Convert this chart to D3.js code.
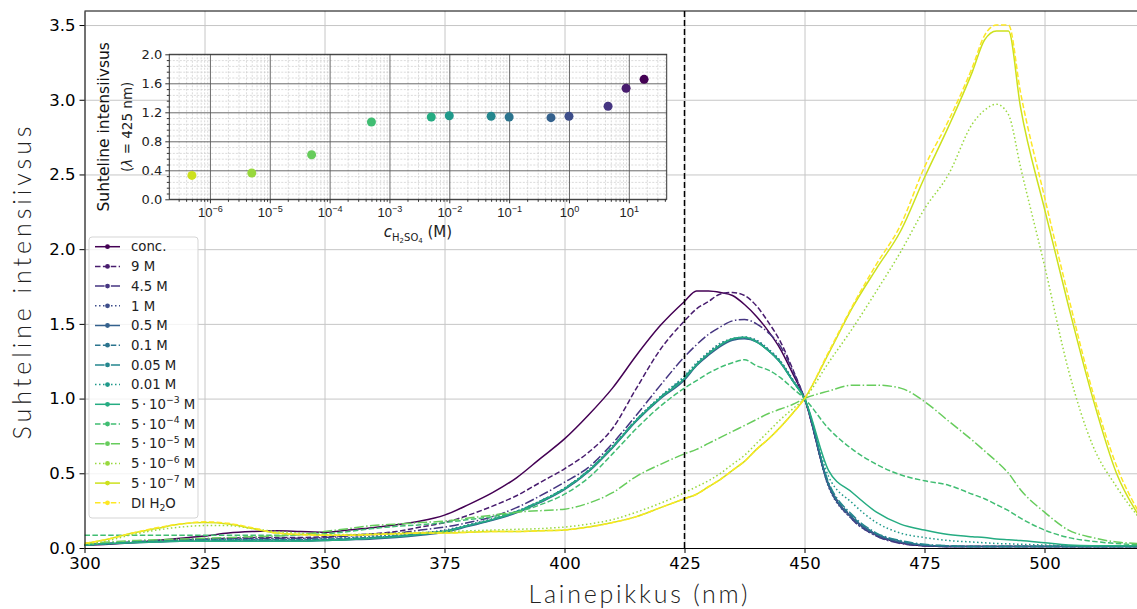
<!DOCTYPE html>
<html>
<head>
<meta charset="utf-8">
<script src="https://cdn.jsdelivr.net/npm/d3@7"></script>
<style>
  body { margin: 0; background: #fff; }
  svg { display: block; font-family: "DejaVu Sans", sans-serif; }
</style>
</head>
<body>
<svg id="chart" width="1137" height="609"></svg>
<script>
// wavelength grid (nm) shared by all spectra
const wavelengths = [300, 305, 310, 315, 320, 325, 330, 335, 340, 345,
    350, 355, 360, 365, 370, 375, 380, 385, 390, 395,
    400, 405, 410, 415, 420, 425, 427.5, 430, 432.5, 435,
    437.5, 440, 442.5, 445, 447.5, 450, 455, 460, 465, 470,
    475, 480, 485, 487.5, 490, 492.5, 495, 500, 505, 510, 515, 520];

const seriesLabels = ["conc.", "9 M", "4.5 M", "1 M", "0.5 M", "0.1 M", "0.05 M", "0.01 M",
    "5\u2009·\u200910^{−3} M", "5\u2009·\u200910^{−4} M", "5\u2009·\u200910^{−5} M",
    "5\u2009·\u200910^{−6} M", "5\u2009·\u200910^{−7} M", "DI H_{2}O"];

// relative intensity, one array per H2SO4 concentration
const concAcid = [0.02, 0.025, 0.035, 0.05, 0.065, 0.08, 0.10, 0.11, 0.115, 0.11,
    0.105, 0.12, 0.135, 0.155, 0.18, 0.22, 0.29, 0.37, 0.47, 0.60,
    0.73, 0.89, 1.07, 1.29, 1.49, 1.65, 1.72, 1.72, 1.71, 1.69,
    1.63, 1.55, 1.45, 1.33, 1.17, 1.0, 0.42, 0.20, 0.09, 0.035,
    0.015, 0.01, 0.01, 0.01, 0.01, 0.01, 0.01, 0.01, 0.01, 0.01, 0.01, 0.01];
const acid9M = [0.02, 0.03, 0.04, 0.05, 0.055, 0.06, 0.065, 0.07, 0.07, 0.07,
    0.075, 0.085, 0.095, 0.11, 0.14, 0.17, 0.22, 0.28, 0.35, 0.44,
    0.53, 0.64, 0.80, 1.07, 1.33, 1.52, 1.60, 1.65, 1.70, 1.71,
    1.69, 1.62, 1.51, 1.38, 1.20, 1.0, 0.43, 0.20, 0.085, 0.035,
    0.015, 0.01, 0.01, 0.01, 0.01, 0.01, 0.01, 0.01, 0.01, 0.01, 0.01, 0.01];
const acid45M = [0.02, 0.03, 0.04, 0.05, 0.055, 0.06, 0.065, 0.065, 0.065, 0.065,
    0.07, 0.08, 0.09, 0.10, 0.12, 0.14, 0.17, 0.21, 0.27, 0.35,
    0.44, 0.54, 0.70, 0.89, 1.09, 1.28, 1.36, 1.43, 1.48, 1.52,
    1.53, 1.50, 1.44, 1.35, 1.19, 1.0, 0.42, 0.19, 0.08, 0.03,
    0.015, 0.01, 0.01, 0.01, 0.01, 0.01, 0.01, 0.01, 0.01, 0.01, 0.01, 0.01];
const acid1M = [0.02, 0.03, 0.04, 0.05, 0.055, 0.06, 0.06, 0.06, 0.06, 0.06,
    0.065, 0.07, 0.08, 0.09, 0.10, 0.12, 0.155, 0.195, 0.245, 0.315,
    0.40, 0.52, 0.68, 0.86, 1.01, 1.145, 1.23, 1.31, 1.37, 1.40,
    1.41, 1.39, 1.33, 1.25, 1.13, 1.0, 0.41, 0.19, 0.08, 0.035,
    0.015, 0.01, 0.01, 0.01, 0.01, 0.01, 0.01, 0.01, 0.01, 0.01, 0.01, 0.01];
const acid05M = [0.02, 0.03, 0.035, 0.04, 0.045, 0.045, 0.045, 0.045, 0.045, 0.045,
    0.05, 0.055, 0.06, 0.07, 0.085, 0.105, 0.145, 0.185, 0.235, 0.305,
    0.39, 0.51, 0.67, 0.85, 1.00, 1.125, 1.22, 1.29, 1.35, 1.39,
    1.40, 1.38, 1.32, 1.24, 1.12, 1.0, 0.42, 0.20, 0.09, 0.04,
    0.02, 0.01, 0.01, 0.01, 0.01, 0.01, 0.01, 0.01, 0.01, 0.01, 0.01, 0.01];
const acid01M = [0.02, 0.03, 0.04, 0.045, 0.05, 0.055, 0.055, 0.055, 0.055, 0.055,
    0.06, 0.065, 0.07, 0.08, 0.095, 0.11, 0.15, 0.19, 0.24, 0.31,
    0.395, 0.515, 0.675, 0.855, 1.005, 1.135, 1.225, 1.30, 1.36, 1.395,
    1.405, 1.385, 1.325, 1.245, 1.125, 1.0, 0.43, 0.21, 0.095, 0.045,
    0.02, 0.015, 0.01, 0.01, 0.01, 0.01, 0.01, 0.01, 0.01, 0.01, 0.01, 0.01];
const acid005M = [0.02, 0.03, 0.04, 0.045, 0.05, 0.05, 0.05, 0.05, 0.05, 0.05,
    0.055, 0.06, 0.07, 0.08, 0.095, 0.115, 0.15, 0.19, 0.245, 0.315,
    0.40, 0.52, 0.68, 0.86, 1.01, 1.145, 1.23, 1.30, 1.36, 1.40,
    1.41, 1.38, 1.32, 1.24, 1.12, 1.0, 0.44, 0.22, 0.10, 0.05,
    0.025, 0.015, 0.01, 0.01, 0.01, 0.01, 0.01, 0.01, 0.01, 0.01, 0.01, 0.01];
const acid001M = [0.02, 0.03, 0.04, 0.045, 0.05, 0.055, 0.055, 0.055, 0.055, 0.055,
    0.06, 0.065, 0.075, 0.085, 0.10, 0.115, 0.155, 0.195, 0.245, 0.315,
    0.40, 0.52, 0.68, 0.86, 1.015, 1.153, 1.24, 1.31, 1.37, 1.40,
    1.41, 1.39, 1.33, 1.25, 1.13, 1.0, 0.48, 0.30, 0.17, 0.10,
    0.07, 0.05, 0.04, 0.035, 0.03, 0.028, 0.025, 0.02, 0.015, 0.01, 0.01, 0.01];
const acid5e3 = [0.02, 0.03, 0.035, 0.04, 0.045, 0.045, 0.045, 0.045, 0.045, 0.045,
    0.05, 0.055, 0.065, 0.075, 0.09, 0.11, 0.15, 0.19, 0.24, 0.31,
    0.395, 0.515, 0.675, 0.855, 1.005, 1.135, 1.225, 1.30, 1.36, 1.40,
    1.41, 1.38, 1.32, 1.24, 1.12, 1.0, 0.52, 0.37, 0.24, 0.16,
    0.12, 0.09, 0.075, 0.07, 0.06, 0.055, 0.05, 0.035, 0.02, 0.015, 0.015, 0.015];
const acid5e4 = [0.085, 0.085, 0.085, 0.085, 0.085, 0.085, 0.085, 0.085, 0.085, 0.09,
    0.095, 0.11, 0.13, 0.145, 0.155, 0.17, 0.19, 0.21, 0.24, 0.29,
    0.36, 0.47, 0.63, 0.80, 0.95, 1.07, 1.12, 1.17, 1.21, 1.24,
    1.26, 1.22, 1.19, 1.14, 1.07, 1.0, 0.80, 0.66, 0.56, 0.49,
    0.45, 0.42, 0.36, 0.33, 0.29, 0.25, 0.20, 0.12, 0.07, 0.045, 0.03, 0.02];
const acid5e5 = [0.03, 0.04, 0.05, 0.055, 0.06, 0.065, 0.07, 0.075, 0.08, 0.09,
    0.11, 0.13, 0.15, 0.16, 0.17, 0.18, 0.20, 0.22, 0.24, 0.25,
    0.26, 0.30, 0.37, 0.48, 0.56, 0.63, 0.66, 0.70, 0.74, 0.78,
    0.82, 0.86, 0.90, 0.93, 0.96, 1.0, 1.05, 1.09, 1.09, 1.07,
    0.98, 0.85, 0.72, 0.65, 0.58, 0.50, 0.39, 0.24, 0.12, 0.07, 0.04, 0.03];
const acid5e6 = [0.02, 0.05, 0.09, 0.12, 0.14, 0.15, 0.15, 0.13, 0.11, 0.10,
    0.09, 0.09, 0.095, 0.10, 0.105, 0.11, 0.115, 0.12, 0.125, 0.13,
    0.14, 0.16, 0.19, 0.24, 0.30, 0.37, 0.41, 0.45, 0.50, 0.56,
    0.62, 0.70, 0.78, 0.86, 0.93, 1.0, 1.24, 1.47, 1.72, 1.98,
    2.27, 2.50, 2.84, 2.93, 2.97, 2.90, 2.55, 1.89, 1.19, 0.69, 0.41, 0.19];
const acid5e7 = [0.03, 0.06, 0.10, 0.13, 0.16, 0.17, 0.16, 0.13, 0.10, 0.09,
    0.085, 0.085, 0.09, 0.095, 0.10, 0.10, 0.105, 0.11, 0.11, 0.115,
    0.12, 0.14, 0.17, 0.21, 0.27, 0.33, 0.36, 0.41, 0.46, 0.52,
    0.58, 0.66, 0.73, 0.81, 0.90, 1.0, 1.30, 1.61, 1.87, 2.12,
    2.48, 2.82, 3.19, 3.40, 3.46, 3.46, 2.95, 2.27, 1.62, 1.01, 0.50, 0.20];
const diWater = [0.03, 0.06, 0.10, 0.135, 0.16, 0.175, 0.165, 0.135, 0.10, 0.09,
    0.085, 0.085, 0.09, 0.095, 0.10, 0.10, 0.105, 0.11, 0.11, 0.115,
    0.12, 0.14, 0.17, 0.21, 0.27, 0.33, 0.36, 0.41, 0.46, 0.52,
    0.58, 0.66, 0.73, 0.81, 0.90, 1.0, 1.31, 1.62, 1.90, 2.16,
    2.55, 2.86, 3.22, 3.43, 3.50, 3.50, 3.05, 2.35, 1.68, 1.05, 0.55, 0.22];

// inset: intensity at 425 nm vs acid concentration (M)
const insetConc = [18, 9, 4.5, 1, 0.5, 0.1, 0.05, 0.01, 5e-3, 5e-4, 5e-5, 5e-6, 5e-7];
const insetValues = [1.655, 1.531, 1.283, 1.145, 1.126, 1.135, 1.145, 1.153, 1.135, 1.066, 0.615, 0.363, 0.330];

const xTicks = [300, 325, 350, 375, 400, 425, 450, 475, 500];
const yTicks = [0, 0.5, 1.0, 1.5, 2.0, 2.5, 3.0, 3.5];
const insetXTicks = [1e-6, 1e-5, 1e-4, 1e-3, 1e-2, 1e-1, 1e0, 1e1];
const insetYTicks = [0, 0.4, 0.8, 1.2, 1.6, 2.0];

const spectra = [concAcid, acid9M, acid45M, acid1M, acid05M, acid01M, acid005M, acid001M,
    acid5e3, acid5e4, acid5e5, acid5e6, acid5e7, diWater];
const dashes = [null, "5.5,2.4", "9.6,2.4,1.5,2.4", "1.5,2.5"];
const colorOf = i => d3.interpolateViridis(i / (spectra.length - 1));

const svg = d3.select("#chart");

// text with ^{..} superscripts and _{..} subscripts
const addRich = (textSel, str, size) => {
    const re = /([\^_])\{([^}]*)\}/g;
    let last = 0, shift = 0, m;
    const plain = s => {
        if (!s) return;
        textSel.append("tspan").attr("dy", -shift).text(s);
        shift = 0;
    };
    while ((m = re.exec(str)) !== null) {
        plain(str.slice(last, m.index));
        const off = m[1] === "^" ? -0.42 * size : 0.28 * size;
        textSel.append("tspan").attr("font-size", size * 0.7).attr("dy", off - shift).text(m[2]);
        shift = off;
        last = re.lastIndex;
    }
    plain(str.slice(last));
};

// ---------- main axes ----------
const plotLeft = 84.5, plotTop = 11, plotBottom = 548;
const x = d3.scaleLinear().domain([300, 520]).range([plotLeft, plotLeft + 220 * 4.8]);
const y = d3.scaleLinear().domain([0, 3.594]).range([plotBottom, plotTop]);
const plotRight = x(520);

svg.append("defs").append("clipPath").attr("id", "plot-clip")
    .append("rect").attr("x", plotLeft).attr("y", plotTop)
    .attr("width", plotRight - plotLeft).attr("height", plotBottom - plotTop);

const gridX = svg.append("g")
    .attr("transform", `translate(0,${plotBottom})`)
    .call(d3.axisBottom(x).tickValues(xTicks).tickSize(-(plotBottom - plotTop)).tickFormat(""));
const gridY = svg.append("g")
    .attr("transform", `translate(${plotLeft},0)`)
    .call(d3.axisLeft(y).tickValues(yTicks).tickSize(-(plotRight - plotLeft)).tickFormat(""));
[gridX, gridY].forEach(g => {
    g.select(".domain").remove();
    g.selectAll("line").attr("stroke", "#c6c6c6").attr("stroke-width", 1);
});

const line = d3.line()
    .x((d, i) => x(wavelengths[i]))
    .y(d => y(d))
    .curve(d3.curveMonotoneX);

const plot = svg.append("g").attr("clip-path", "url(#plot-clip)");
plot.selectAll("path.spectrum")
    .data(spectra)
    .enter()
    .append("path")
    .attr("class", "spectrum")
    .attr("fill", "none")
    .attr("stroke", (d, i) => colorOf(i))
    .attr("stroke-width", 1.5)
    .attr("stroke-dasharray", (d, i) => dashes[i % 4])
    .attr("d", line);

plot.append("line")
    .attr("x1", x(425)).attr("x2", x(425))
    .attr("y1", plotTop).attr("y2", plotBottom)
    .attr("stroke", "#000")
    .attr("stroke-width", 1.5)
    .attr("stroke-dasharray", "6,3");

const xAxis = svg.append("g")
    .attr("transform", `translate(0,${plotBottom})`)
    .call(d3.axisBottom(x).tickValues(xTicks).tickSize(5).tickSizeOuter(0).tickPadding(4));
const yAxis = svg.append("g")
    .attr("transform", `translate(${plotLeft},0)`)
    .call(d3.axisLeft(y).tickValues(yTicks).tickSize(5).tickSizeOuter(0).tickPadding(4).tickFormat(d3.format(".1f")));
[xAxis, yAxis].forEach(g => {
    g.selectAll("text").attr("font-size", 16.5).attr("fill", "#000").attr("font-family", "DejaVu Sans");
    g.selectAll("line").attr("stroke", "#000");
    g.select(".domain").attr("stroke", "#000");
});
svg.append("line")
    .attr("x1", plotLeft).attr("x2", plotRight).attr("y1", plotTop).attr("y2", plotTop)
    .attr("stroke", "#000").attr("stroke-width", 1);

svg.append("text")
    .attr("x", 638).attr("y", 603)
    .attr("text-anchor", "middle")
    .attr("font-family", "Lato, 'Open Sans', sans-serif")
    .attr("font-weight", 300)
    .attr("font-size", 25)
    .attr("fill", "#222")
    .attr("textLength", 219)
    .attr("lengthAdjust", "spacing")
    .text("Lainepikkus (nm)");

svg.append("text")
    .attr("transform", "translate(31,283) rotate(-90)")
    .attr("text-anchor", "middle")
    .attr("font-family", "Lato, 'Open Sans', sans-serif")
    .attr("font-weight", 300)
    .attr("font-size", 25)
    .attr("fill", "#222")
    .attr("textLength", 313)
    .attr("lengthAdjust", "spacing")
    .text("Suhteline intensiivsus");

// ---------- legend ----------
const legend = svg.append("g");
legend.append("rect")
    .attr("x", 89).attr("y", 237).attr("width", 109).attr("height", 281)
    .attr("rx", 3)
    .attr("fill", "#fff").attr("fill-opacity", 0.8)
    .attr("stroke", "#d5d5d5");

const rowY = i => 246.7 + i * 19.7;
const rows = legend.selectAll("g.row")
    .data(seriesLabels)
    .enter()
    .append("g")
    .attr("class", "row");
rows.append("line")
    .attr("x1", 95).attr("x2", 120)
    .attr("y1", (d, i) => rowY(i)).attr("y2", (d, i) => rowY(i))
    .attr("stroke", (d, i) => colorOf(i))
    .attr("stroke-width", 1.5)
    .attr("stroke-dasharray", (d, i) => dashes[i % 4]);
rows.append("circle")
    .attr("cx", 107.5).attr("cy", (d, i) => rowY(i)).attr("r", 2.4)
    .attr("fill", (d, i) => colorOf(i));
rows.append("text")
    .attr("x", 131).attr("y", (d, i) => rowY(i) + 4.7)
    .attr("font-size", 13.3)
    .attr("fill", "#222")
    .each(function (d) { addRich(d3.select(this), d, 13.3); });

// ---------- inset ----------
const iLeft = 169.3, iRight = 666.7, iTop = 54.3, iBottom = 199.3;
const xi = d3.scaleLog().domain([Math.pow(10, -6.679), Math.pow(10, 1.633)]).range([iLeft, iRight]);
const yi = d3.scaleLinear().domain([0, 2]).range([iBottom, iTop]);

const inset = svg.append("g");
inset.append("rect")
    .attr("x", iLeft).attr("y", iTop)
    .attr("width", iRight - iLeft).attr("height", iBottom - iTop)
    .attr("fill", "#fff");

const minorX = [];
for (let e = -7; e <= 1; e++) {
    for (let k = 2; k <= 9; k++) {
        const v = k * Math.pow(10, e);
        if (v > xi.domain()[0] && v < xi.domain()[1]) minorX.push(v);
    }
}
const minorY = d3.range(0.08, 2, 0.08).filter(v => Math.abs(v / 0.4 - Math.round(v / 0.4)) > 0.01);

const iGridMinX = inset.append("g")
    .attr("transform", `translate(0,${iBottom})`)
    .call(d3.axisBottom(xi).tickValues(minorX).tickSize(-(iBottom - iTop)).tickFormat(""));
const iGridMinY = inset.append("g")
    .attr("transform", `translate(${iLeft},0)`)
    .call(d3.axisLeft(yi).tickValues(minorY).tickSize(-(iRight - iLeft)).tickFormat(""));
[iGridMinX, iGridMinY].forEach(g => {
    g.select(".domain").remove();
    g.selectAll("line").attr("stroke", "#c2c2c2").attr("stroke-width", 0.6).attr("stroke-dasharray", "2,1.5");
});
const iGridX = inset.append("g")
    .attr("transform", `translate(0,${iBottom})`)
    .call(d3.axisBottom(xi).tickValues(insetXTicks).tickSize(-(iBottom - iTop)).tickFormat(""));
const iGridY = inset.append("g")
    .attr("transform", `translate(${iLeft},0)`)
    .call(d3.axisLeft(yi).tickValues(insetYTicks).tickSize(-(iRight - iLeft)).tickFormat(""));
[iGridX, iGridY].forEach(g => {
    g.select(".domain").remove();
    g.selectAll("line").attr("stroke", "#5a5a5a").attr("stroke-width", 0.9);
});

inset.selectAll("circle.pt")
    .data(insetConc)
    .enter()
    .append("circle")
    .attr("class", "pt")
    .attr("cx", d => xi(d))
    .attr("cy", (d, i) => yi(insetValues[i]))
    .attr("r", 4.5)
    .attr("fill", (d, i) => colorOf(i));

inset.append("rect")
    .attr("x", iLeft).attr("y", iTop)
    .attr("width", iRight - iLeft).attr("height", iBottom - iTop)
    .attr("fill", "none").attr("stroke", "#333").attr("stroke-width", 1);

const iMinTicksX = inset.append("g")
    .attr("transform", `translate(0,${iBottom})`)
    .call(d3.axisBottom(xi).tickValues(minorX).tickSize(2.5).tickFormat(""));
const iMinTicksY = inset.append("g")
    .attr("transform", `translate(${iLeft},0)`)
    .call(d3.axisLeft(yi).tickValues(minorY).tickSize(2.5).tickFormat(""));
const iAxisX = inset.append("g")
    .attr("transform", `translate(0,${iBottom})`)
    .call(d3.axisBottom(xi).tickValues(insetXTicks).tickSize(4).tickPadding(3).tickFormat(""));
const iAxisY = inset.append("g")
    .attr("transform", `translate(${iLeft},0)`)
    .call(d3.axisLeft(yi).tickValues(insetYTicks).tickSize(4).tickPadding(3).tickFormat(d3.format(".1f")));
[iMinTicksX, iMinTicksY, iAxisX, iAxisY].forEach(g => {
    g.select(".domain").remove();
    g.selectAll("line").attr("stroke", "#333");
});
iAxisY.selectAll("text").attr("font-size", 13).attr("fill", "#222").attr("font-family", "DejaVu Sans");

iAxisX.selectAll(".tick")
    .append("text")
    .attr("y", 18)
    .attr("fill", "#222")
    .attr("font-size", 13)
    .attr("text-anchor", "middle")
    .each(function (d) {
        addRich(d3.select(this), `10^{${Math.round(Math.log10(d)).toString().replace("-", "−")}}`, 13);
    });

const cLabel = inset.append("text")
    .attr("x", 418).attr("y", 237)
    .attr("text-anchor", "middle")
    .attr("font-size", 15)
    .attr("fill", "#222");
cLabel.append("tspan").attr("font-style", "italic").text("c");
cLabel.append("tspan").attr("font-size", 10).attr("dy", 4).text("H");
cLabel.append("tspan").attr("font-size", 7).attr("dy", 2).text("2");
cLabel.append("tspan").attr("font-size", 10).attr("dy", -2).text("SO");
cLabel.append("tspan").attr("font-size", 7).attr("dy", 2).text("4");
cLabel.append("tspan").attr("dy", -6).text(" (M)");

inset.append("text")
    .attr("transform", `translate(109,${(iTop + iBottom) / 2}) rotate(-90)`)
    .attr("text-anchor", "middle")
    .attr("font-size", 15.5)
    .attr("fill", "#111")
    .text("Suhteline intensiivsus");
const lambdaLabel = inset.append("text")
    .attr("transform", `translate(132,${(iTop + iBottom) / 2}) rotate(-90)`)
    .attr("text-anchor", "middle")
    .attr("font-size", 13.5)
    .attr("fill", "#222");
lambdaLabel.append("tspan").text("(");
lambdaLabel.append("tspan").attr("font-style", "italic").text("λ");
lambdaLabel.append("tspan").text(" = 425 nm)");
</script>
</body>
</html>
